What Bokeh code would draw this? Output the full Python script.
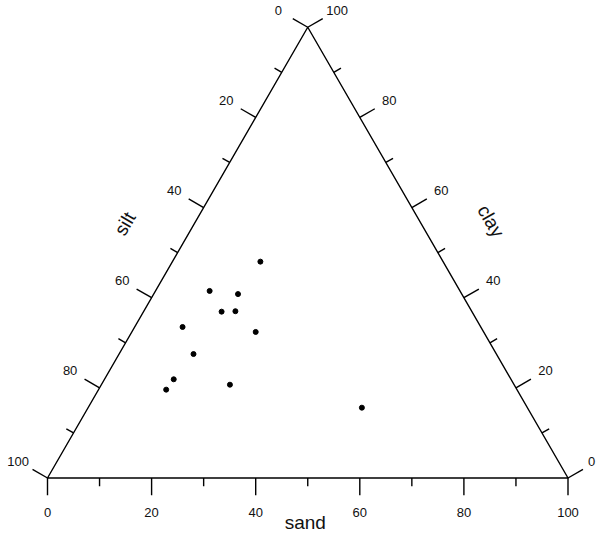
import math
from bokeh.plotting import figure
from bokeh.models import Range1d, ColumnDataSource
from bokeh.core.properties import value
from bokeh.embed import file_html
from bokeh.resources import INLINE

# ---------------- data (percent) ----------------
sand = [16.9, 10.4, 16.2, 15.0, 17.6, 9.2, 23.8, 14.3, 13.3, 13.0, 24.7, 52.6]
silt = [35.1, 48.1, 43.0, 48.1, 45.4, 57.3, 43.8, 58.2, 64.8, 67.4, 54.6, 31.8]
clay = [48.0, 41.5, 40.8, 36.9, 37.0, 33.5, 32.4, 27.5, 21.9, 19.6, 20.7, 15.6]

tick_values = [0, 10, 20, 30, 40, 50, 60, 70, 80, 90, 100]
label_values = [0, 20, 40, 60, 80, 100]
tick_labels = ["0", "20", "40", "60", "80", "100"]
axis_titles = ["sand", "silt", "clay"]

# ---------------- layout ----------------
W, H = 596, 533
K = 5.205             # px per percent unit (triangle side = 100 units)
OX, OY = 55.0, 485.5  # page px of the sand=0 / silt=100 corner
MARGIN = 8
H3 = math.sqrt(3) / 2

x0 = -(OX - MARGIN) / K
x1 = x0 + W / K
y1 = (OY - MARGIN) / K
y0 = y1 - H / K

p = figure(width=W, height=H, x_range=Range1d(x0, x1), y_range=Range1d(y0, y1),
           output_backend="svg", toolbar_location=None, min_border=0,
           x_axis_location=None, y_axis_location=None)
p.grid.visible = False
p.outline_line_color = None
p.background_fill_color = "white"
p.border_fill_color = "white"


def tern(sa, cl):
    return sa + cl / 2.0, cl * H3


# triangle
tx = [0, 100, 50, 0]
ty = [0, 0, 100 * H3, 0]
p.line(tx, ty, line_color="black", line_width=1.4)

MAJ = 17.3 / K
MIN = 8.3 / K
LAB = 34.0 / K

normals = {"sand": (0.0, -1.0), "silt": (-H3, 0.5), "clay": (H3, 0.5)}


def base_point(axis, t):
    if axis == "sand":
        return (t, 0.0)
    if axis == "silt":
        return (50 - t / 2.0, 100 * H3 * (1 - t / 100.0))
    return (100 - t / 2.0, 100 * H3 * t / 100.0)


segs = {"x0": [], "y0": [], "x1": [], "y1": []}
labs = {"x": [], "y": [], "t": []}
for ax in ["sand", "silt", "clay"]:
    nx, ny = normals[ax]
    for t in tick_values:
        bx, by = base_point(ax, t)
        L = MAJ if t in label_values else MIN
        segs["x0"].append(bx)
        segs["y0"].append(by)
        segs["x1"].append(bx + nx * L)
        segs["y1"].append(by + ny * L)
    for t, s in zip(label_values, tick_labels):
        bx, by = base_point(ax, t)
        d = 34.5 / K if ax == "sand" else LAB
        lx = min(bx + nx * d, x1 - (len(s) * 3.8 + 1.0) / K)
        labs["x"].append(lx)
        labs["y"].append(by + ny * d)
        labs["t"].append(s)

p.segment(x0="x0", y0="y0", x1="x1", y1="y1", source=ColumnDataSource(segs),
          line_color="black", line_width=1.4)
p.text(x="x", y="y", text="t", source=ColumnDataSource(labs),
       text_font=value("Liberation Sans"), text_font_size="13px",
       text_align="center", text_baseline="middle", text_color="#111111")

# axis titles
mid_sand = base_point("sand", 50)
mid_silt = base_point("silt", 50)
mid_clay = base_point("clay", 50)
p.text(x=[mid_sand[0] - 2.5 / K], y=[mid_sand[1] - 55.3 / K], text=[axis_titles[0]],
       text_font=value("Liberation Sans"), text_font_size="19px",
       text_align="center", text_baseline="bottom", text_color="#111111")
p.text(x=[mid_silt[0] - 52.6 / K], y=[mid_silt[1] + 29.0 / K], text=[axis_titles[1]],
       angle=math.pi / 3, text_font=value("Liberation Sans"), text_font_size="19px",
       text_align="center", text_baseline="middle", text_color="#111111")
p.text(x=[mid_clay[0] + 53.0 / K], y=[mid_clay[1] + 31.5 / K], text=[axis_titles[2]],
       angle=-math.pi / 3, text_font=value("Liberation Sans"), text_font_size="19px",
       text_align="center", text_baseline="middle", text_color="#111111")

# points
px, py = [], []
for sa, si, cl in zip(sand, silt, clay):
    tot = sa + si + cl
    xx, yy = tern(sa * 100 / tot, cl * 100 / tot)
    px.append(xx)
    py.append(yy)
p.scatter(px, py, size=5, fill_color="black", line_color="black")

open("out.html", "w").write(file_html(p, INLINE))
